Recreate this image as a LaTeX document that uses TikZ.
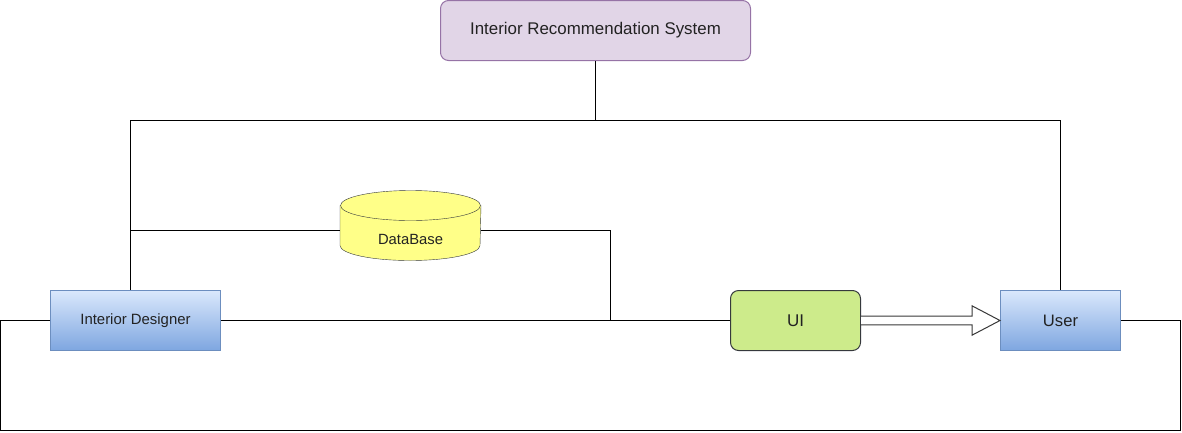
\documentclass[tikz,border=0pt]{standalone}
\usepackage{fontspec}
\setmainfont{Liberation Sans}
\usetikzlibrary{backgrounds}

\definecolor{sysfill}{HTML}{E1D5E7}
\definecolor{sysline}{HTML}{9673A6}
\definecolor{actortop}{HTML}{DAE8FC}
\definecolor{actorbot}{HTML}{7EA6E0}
\definecolor{actorline}{HTML}{6C8EBF}
\definecolor{uifill}{HTML}{CDEB8B}
\definecolor{uiline}{HTML}{36393D}
\definecolor{dbfill}{HTML}{FFFF88}
\definecolor{dbline}{HTML}{36393D}
\definecolor{inkgray}{HTML}{222222}

\begin{document}
\begin{tikzpicture}[x=1pt, y=-1pt, line width=1pt,
	every node/.style={text=inkgray},
	sysbox/.style={draw=sysline, fill=sysfill, rounded corners=8pt, minimum width=310pt, minimum height=60pt, font=\fontsize{16.9}{20}\selectfont},
	actor/.style={draw=actorline, top color=actortop, bottom color=actorbot, minimum height=60pt},
	uibox/.style={draw=uiline, fill=uifill, rounded corners=8pt, minimum width=130pt, minimum height=60pt, font=\fontsize{17}{20}\selectfont},
	dbbox/.style={minimum width=140pt, minimum height=70pt},
	dbpaint/.style={draw=dbline, fill=dbfill},
	flow/.style={draw=inkgray!90, fill=white, line join=miter}]
	\useasboundingbox (-0.5,-0.5) rectangle (1181.5,431.5);

	% boxes
	\node[sysbox] (irs) at (595,30) {Interior Recommendation System};
	\node[actor, minimum width=170pt, font=\fontsize{14.9}{18}\selectfont] (id) at (135,320) {Interior Designer};
	\node[actor, minimum width=120pt, font=\fontsize{16.6}{20}\selectfont] (user) at (1060,320) {User};
	\node[uibox] (ui) at (795,320) {UI};
	\node[dbbox, label={[font=\fontsize{14.8}{18}\selectfont, yshift=-14pt]center:DataBase}] (db) at (410,225) {};

	% database drum
	\begin{scope}[on background layer]
		\filldraw[dbpaint] ([yshift=20pt]db.west) -- ([yshift=-20pt]db.west)
			arc[start angle=180, end angle=360, x radius=70pt, y radius=15pt]
			-- ([yshift=20pt]db.east) -- cycle;
		\filldraw[dbpaint] ([yshift=20pt]db.center) ellipse[x radius=70pt, y radius=15pt];
	\end{scope}

	\coordinate (topl) at (130,120);
	\coordinate (topr) at (1060,120);
	\coordinate (tee) at (610,320);
	\coordinate (loopl) at (0,430);
	\coordinate (loopr) at (1180,430);

	% connectors
	\draw (irs.south) |- (topl) -- ([xshift=-5pt]id.north);
	\draw (irs.south) |- (topr) -- (user.north);
	\draw (topl) |- ([yshift=-5pt]db.west);
	\draw ([yshift=-5pt]db.east) -| (tee);
	\draw (id.east) -- (ui.west);
	\draw (id.west) -| (loopl) -- (loopr) |- (user.east);

	% hollow arrow UI -> User
	\draw[flow] ([yshift=4.3pt]ui.east) -- ([xshift=-28pt,yshift=4.3pt]user.west)
		-- ([xshift=-28pt,yshift=14.7pt]user.west) -- (user.west)
		-- ([xshift=-28pt,yshift=-14.7pt]user.west) -- ([xshift=-28pt,yshift=-4.3pt]user.west)
		-- ([yshift=-4.3pt]ui.east);
\end{tikzpicture}
\end{document}
